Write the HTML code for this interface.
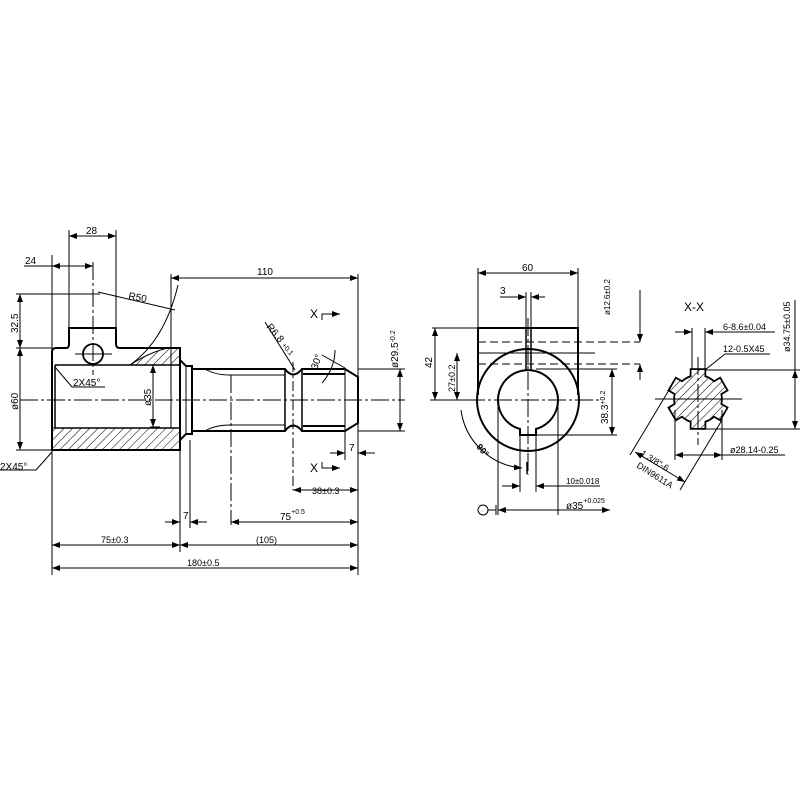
<!DOCTYPE html>
<html><head><meta charset="utf-8"><style>
html,body{margin:0;padding:0;background:#fff}
svg{display:block}
text{font-family:"Liberation Sans",sans-serif;fill:#000}
</style></head><body>
<svg width="800" height="800" viewBox="0 0 800 800" xmlns="http://www.w3.org/2000/svg">
<defs>
<pattern id="h" patternUnits="userSpaceOnUse" width="6" height="6" patternTransform="rotate(45)">
<rect width="6" height="6" fill="#fff"/><line x1="0" y1="0" x2="0" y2="6" stroke="#000" stroke-width="1"/></pattern>
<marker id="a" markerWidth="8" markerHeight="6" refX="8" refY="3" orient="auto-start-reverse" markerUnits="userSpaceOnUse"><path d="M0,0 L8,3 L0,6z" fill="#000"/></marker>
<clipPath id="sp">
<circle cx="698" cy="399" r="23"/>
<rect x="691.5" y="370" width="13" height="58"/>
<rect x="691.5" y="370" width="13" height="58" transform="rotate(60 698 399)"/>
<rect x="691.5" y="370" width="13" height="58" transform="rotate(120 698 399)"/>
</clipPath>
</defs>
<g stroke="#000" fill="none" stroke-width="1">
<!-- LEFT VIEW -->
<path d="M130,365 Q150,352 168,348 L180,348 L180,365 Z" fill="url(#h)"/>
<rect x="52" y="428" width="128" height="22" fill="url(#h)"/>
<path d="M52,450 L52,352 Q52,348 56,348 L66,348 Q69,348 69,344 L69,328 L116,328 L116,344 Q116,348 120,348 L180,348 L180,450 Z" stroke-width="2"/>
<line x1="55" y1="365" x2="180" y2="365" stroke-width="1.5"/>
<line x1="55" y1="428" x2="180" y2="428" stroke-width="1.5"/>
<line x1="55" y1="365" x2="55" y2="428" stroke-width="1.5"/>
<line x1="171" y1="365" x2="171" y2="428"/>
<circle cx="93" cy="354" r="10" stroke-width="1.8"/>
<path d="M180,360 L186,366 L192,366 L192,434 L186,434 L180,440" stroke-width="2"/>
<line x1="186" y1="366" x2="186" y2="434"/>
<path d="M192,369 L285,369 Q293,380 302,369 L345,369 L358,377 L358,423 L345,431 L302,431 Q293,420 285,431 L192,431" stroke-width="2"/>
<path d="M205,369 Q215,375 230,375 L285,375"/><path d="M205,431 Q215,425 230,425 L285,425"/>
<line x1="285" y1="369" x2="285" y2="431" stroke-width="1.5"/><line x1="302" y1="369" x2="302" y2="431" stroke-width="1.5"/>
<line x1="303" y1="374" x2="345" y2="374" stroke-width="2"/><line x1="303" y1="426" x2="345" y2="426" stroke-width="2"/>
<line x1="345" y1="369" x2="345" y2="431"/>
<line x1="20" y1="400" x2="405" y2="400" stroke-dasharray="18,3,3,3"/>
<line x1="93" y1="262" x2="93" y2="375" stroke-dasharray="18,3,3,3"/>
<line x1="75" y1="354" x2="112" y2="354"/>
<line x1="231" y1="375" x2="231" y2="525" stroke-dasharray="18,3,3,3"/>
<line x1="293" y1="362" x2="293" y2="490" stroke-dasharray="10,3,3,3"/>
<path d="M130,365 Q165,340 178,285" />
<line x1="52" y1="255" x2="52" y2="575"/><line x1="69" y1="230" x2="69" y2="328"/><line x1="116" y1="230" x2="116" y2="328"/>
<line x1="171" y1="274" x2="171" y2="365"/><line x1="180" y1="450" x2="180" y2="552"/>
<line x1="190" y1="440" x2="190" y2="528"/><line x1="358" y1="274" x2="358" y2="575"/>
<line x1="345" y1="431" x2="345" y2="460"/>
<line x1="16" y1="294" x2="100" y2="294"/><line x1="16" y1="348" x2="52" y2="348"/><line x1="16" y1="450" x2="52" y2="450"/>
<line x1="150" y1="365" x2="160" y2="365"/><line x1="150" y1="427" x2="160" y2="427"/>
<line x1="358" y1="369" x2="405" y2="369"/><line x1="358" y1="431" x2="405" y2="431"/>
<line x1="69" y1="236" x2="116" y2="236" marker-start="url(#a)" marker-end="url(#a)"/>
<line x1="24" y1="266" x2="93" y2="266" marker-end="url(#a)"/><line x1="52" y1="266" x2="60" y2="266" marker-start="url(#a)"/>
<line x1="171" y1="278" x2="358" y2="278" marker-start="url(#a)" marker-end="url(#a)"/>
<line x1="20" y1="294" x2="20" y2="348" marker-start="url(#a)" marker-end="url(#a)"/>
<line x1="20" y1="348" x2="20" y2="450" marker-start="url(#a)" marker-end="url(#a)"/>
<line x1="153" y1="365" x2="153" y2="427" marker-start="url(#a)" marker-end="url(#a)"/>
<line x1="400" y1="369" x2="400" y2="431" marker-start="url(#a)" marker-end="url(#a)"/>
<line x1="293" y1="490" x2="358" y2="490" marker-start="url(#a)" marker-end="url(#a)"/>
<line x1="231" y1="522" x2="358" y2="522" marker-start="url(#a)" marker-end="url(#a)"/>
<line x1="165" y1="522" x2="180" y2="522" marker-end="url(#a)"/><line x1="207" y1="522" x2="190" y2="522" marker-end="url(#a)"/>
<line x1="330" y1="453" x2="345" y2="453" marker-end="url(#a)"/><line x1="375" y1="453" x2="358" y2="453" marker-end="url(#a)"/>
<line x1="52" y1="545" x2="180" y2="545" marker-start="url(#a)" marker-end="url(#a)"/>
<line x1="180" y1="545" x2="358" y2="545" marker-start="url(#a)" marker-end="url(#a)"/>
<line x1="52" y1="568" x2="358" y2="568" marker-start="url(#a)" marker-end="url(#a)"/>
<polyline points="98,292 175,310"/><line x1="55" y1="367" x2="72" y2="387"/><line x1="72" y1="387" x2="105" y2="387"/>
<polyline points="0,470 36,470 52,452"/>
<line x1="265" y1="322" x2="295" y2="370"/>
<path d="M322,383 Q335,368 335,350" /><line x1="322" y1="355" x2="345" y2="368"/>
<polyline points="322,320 322,314 340,314" marker-end="url(#a)"/><polyline points="322,462 322,468 340,468" marker-end="url(#a)"/>

<!-- MIDDLE VIEW -->
<path d="M478,395 L478,328 L578,328 L578,395" stroke-width="2"/>
<circle cx="528" cy="400" r="51" stroke-width="2" fill="#fff"/>
<line x1="478" y1="328" x2="478" y2="395" stroke-width="2"/><line x1="578" y1="328" x2="578" y2="395" stroke-width="2"/>
<path d="M520,429 A30,30 0 1 1 536,429 L536,435 L520,435 Z" stroke-width="2" fill="#fff"/>
<line x1="526" y1="328" x2="526" y2="370" stroke-width="1.5"/><line x1="531" y1="328" x2="531" y2="370" stroke-width="1.5"/>
<line x1="478" y1="342" x2="640" y2="342" stroke-dasharray="8,4"/><line x1="478" y1="364" x2="640" y2="364" stroke-dasharray="8,4"/>
<line x1="478" y1="353" x2="595" y2="353"/>
<line x1="440" y1="400" x2="600" y2="400" stroke-dasharray="18,3,3,3"/>
<line x1="528" y1="318" x2="528" y2="475" stroke-dasharray="18,3,3,3"/>
<line x1="478" y1="268" x2="478" y2="328"/><line x1="578" y1="268" x2="578" y2="328"/>
<line x1="478" y1="273" x2="578" y2="273" marker-start="url(#a)" marker-end="url(#a)"/>
<line x1="500" y1="297" x2="526" y2="297" marker-end="url(#a)"/><line x1="545" y1="297" x2="531" y2="297" marker-end="url(#a)"/>
<line x1="526" y1="292" x2="526" y2="328"/><line x1="531" y1="292" x2="531" y2="328"/>
<line x1="432" y1="328" x2="478" y2="328"/>
<line x1="435" y1="328" x2="435" y2="400" marker-start="url(#a)" marker-end="url(#a)"/>
<line x1="430" y1="400" x2="478" y2="400"/>
<line x1="457" y1="353" x2="457" y2="400" marker-start="url(#a)" marker-end="url(#a)"/>
<line x1="640" y1="290" x2="640" y2="342" marker-end="url(#a)"/><line x1="640" y1="380" x2="640" y2="364" marker-end="url(#a)"/>
<line x1="536" y1="369" x2="617" y2="369"/><line x1="536" y1="435" x2="617" y2="435"/>
<line x1="612" y1="369" x2="612" y2="435" marker-start="url(#a)" marker-end="url(#a)"/>
<path d="M461,410 A67,67 0 0 0 522,468" marker-end="url(#a)"/><line x1="527" y1="462" x2="527" y2="474" stroke-width="1.5"/>
<line x1="520" y1="435" x2="520" y2="492"/><line x1="536" y1="435" x2="536" y2="492"/>
<line x1="502" y1="486" x2="520" y2="486" marker-end="url(#a)"/><line x1="600" y1="486" x2="536" y2="486" marker-end="url(#a)"/>
<line x1="498" y1="400" x2="498" y2="515"/><line x1="558" y1="400" x2="558" y2="515"/>
<line x1="498" y1="510" x2="610" y2="510" marker-start="url(#a)" marker-end="url(#a)"/>
<circle cx="483" cy="510" r="5"/><line x1="488" y1="510" x2="496" y2="510"/><line x1="496" y1="505" x2="496" y2="515"/>

<!-- X-X VIEW -->
<g stroke="#000" stroke-width="3.5">
<circle cx="698" cy="399" r="23"/>
<rect x="691.5" y="370" width="13" height="58"/>
<rect x="691.5" y="370" width="13" height="58" transform="rotate(60 698 399)"/>
<rect x="691.5" y="370" width="13" height="58" transform="rotate(120 698 399)"/>
</g>
<rect x="660" y="360" width="80" height="80" fill="url(#h)" stroke="none" clip-path="url(#sp)"/>
<line x1="655" y1="399" x2="742" y2="399"/><line x1="698" y1="357" x2="698" y2="445" stroke-dasharray="18,3,3,3"/>
<line x1="692" y1="328" x2="692" y2="370"/><line x1="705" y1="328" x2="705" y2="370"/>
<line x1="675" y1="332" x2="692" y2="332" marker-end="url(#a)"/><line x1="722" y1="332" x2="705" y2="332" marker-end="url(#a)"/><line x1="705" y1="332" x2="775" y2="332"/>
<polyline points="705,370 725,354 770,354"/>
<line x1="705" y1="370" x2="800" y2="370"/><line x1="705" y1="429" x2="800" y2="429"/>
<line x1="795" y1="370" x2="795" y2="429" marker-start="url(#a)" marker-end="url(#a)"/>
<line x1="795" y1="300" x2="795" y2="370"/>
<line x1="675" y1="410" x2="675" y2="460"/><line x1="722" y1="410" x2="722" y2="460"/>
<line x1="675" y1="455" x2="722" y2="455" marker-start="url(#a)" marker-end="url(#a)"/><line x1="722" y1="455" x2="785" y2="455"/>
<line x1="672" y1="385" x2="630" y2="455"/><line x1="722" y1="420" x2="680" y2="490"/>
<line x1="635" y1="452" x2="685" y2="482" marker-start="url(#a)" marker-end="url(#a)"/>
</g>
<g font-size="10">
<text x="86" y="234">28</text>
<text x="25" y="264">24</text>
<text x="257" y="275">110</text>
<text x="128" y="299" transform="rotate(10 128 299)">R50</text>
<text x="73" y="386">2X45°</text>
<text x="0" y="470">2X45°</text>
<text x="18" y="333" transform="rotate(-90 18 333)">32.5</text>
<text x="18" y="410" transform="rotate(-90 18 410)">ø60</text>
<text x="151" y="406" transform="rotate(-90 151 406)">ø35</text>
<text x="398" y="368" transform="rotate(-90 398 368)">ø29.5<tspan font-size="7" dy="-3">-0.2</tspan></text>
<text x="266" y="327" transform="rotate(50 266 327)">R6.8 <tspan font-size="7">+0.1</tspan></text>
<text x="317" y="370" transform="rotate(-70 317 370)">30°</text>
<text x="310" y="318" font-size="12">X</text>
<text x="310" y="472" font-size="12">X</text>
<text x="349" y="451">7</text>
<text x="312" y="494" font-size="9">38±0.3</text>
<text x="280" y="520">75<tspan font-size="7" dy="-6">+0.5</tspan></text>
<text x="183" y="519">7</text>
<text x="101" y="543" font-size="9">75±0.3</text>
<text x="256" y="543" font-size="9">(105)</text>
<text x="187" y="566" font-size="9">180±0.5</text>
<text x="522" y="271">60</text>
<text x="500" y="294">3</text>
<text x="432" y="368" transform="rotate(-90 432 368)">42</text>
<text x="455" y="392" transform="rotate(-90 455 392)" font-size="9">27±0.2</text>
<text x="610" y="315" transform="rotate(-90 610 315)" font-size="8">ø12.6±0.2</text>
<text x="608" y="424" transform="rotate(-90 608 424)">38.3<tspan font-size="7" dy="-3">+0.2</tspan></text>
<text x="476" y="447" transform="rotate(50 476 447)" font-size="9" font-weight="bold">90°</text>
<text x="566" y="484" font-size="8">10±0.018</text>
<text x="566" y="509">ø35<tspan font-size="7" dy="-6">+0.025</tspan></text>
<text x="684" y="311" font-size="12">X-X</text>
<text x="723" y="330" font-size="9">6-8.6±0.04</text>
<text x="723" y="352" font-size="9">12-0.5X45</text>
<text x="790" y="352" transform="rotate(-90 790 352)" font-size="9">ø34.75±0.05</text>
<text x="730" y="453" font-size="9">ø28.14-0.25</text>
<text x="640" y="455" transform="rotate(32 640 455)" font-size="9">1 3/8"-6</text>
<text x="636" y="467" transform="rotate(32 636 467)" font-size="9">DIN9611A</text>
</g>
</svg>
</body></html>
